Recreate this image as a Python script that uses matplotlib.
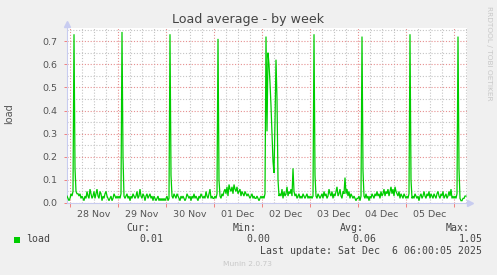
import matplotlib
matplotlib.use("Agg")
import matplotlib.pyplot as plt
import numpy as np

# ---- data (load, hundredths) at 30-minute steps, starting Nov 27 22:30 ----
start_hour = -1.5          # hours relative to 28 Nov 00:00
step_hours = 0.5
load_pre = [3, 2, 1]
load_nov28 = [2, 4, 3, 5, 73, 15, 5, 4, 4, 3, 4, 2, 3, 2, 1, 3, 2, 5, 3, 2, 6, 4, 2, 3,
              5, 2, 4, 6, 3, 2, 5, 4, 1, 3, 2, 4, 5, 3, 2, 1, 2, 3, 1, 2, 4, 3, 2, 3]
load_nov29 = [2, 3, 2, 4, 74, 20, 3, 2, 3, 4, 2, 3, 1, 3, 2, 4, 3, 2, 3, 5, 2, 3, 6, 3,
              2, 4, 3, 1, 3, 4, 2, 3, 4, 2, 3, 1, 3, 2, 1, 2, 3, 1, 2, 1, 2, 1, 2, 1]
load_nov30 = [2, 3, 1, 2, 73, 12, 3, 2, 4, 3, 2, 4, 3, 2, 1, 3, 2, 3, 2, 1, 2, 4, 3, 2,
              3, 1, 3, 2, 4, 2, 3, 2, 1, 3, 2, 4, 3, 2, 3, 2, 5, 3, 2, 4, 6, 2, 3, 2]
load_dec01 = [2, 3, 2, 4, 71, 10, 3, 2, 4, 3, 5, 6, 4, 7, 3, 8, 6, 5, 7, 4, 8, 6, 5, 7,
              4, 5, 6, 3, 5, 4, 3, 5, 4, 3, 4, 3, 2, 3, 4, 2, 3, 2, 2, 3, 2, 1, 2, 3]
load_dec02 = [2, 3, 2, 4, 72, 31, 65, 60, 52, 42, 30, 18, 13, 35, 62, 45, 10, 3, 4, 3, 6, 2, 5, 3,
              4, 7, 3, 5, 4, 6, 3, 15, 5, 3, 4, 2, 3, 4, 2, 3, 2, 4, 3, 2, 3, 4, 2, 3]
load_dec03 = [2, 3, 2, 3, 73, 12, 3, 2, 4, 3, 2, 3, 4, 2, 5, 3, 4, 2, 3, 6, 4, 3, 5, 2,
              4, 3, 5, 7, 3, 4, 6, 3, 2, 5, 4, 11, 4, 6, 3, 5, 2, 4, 3, 2, 3, 2, 1, 2]
load_dec04 = [2, 3, 1, 3, 72, 14, 3, 2, 4, 2, 3, 1, 3, 2, 4, 3, 2, 4, 3, 5, 3, 4, 2, 5,
              3, 4, 6, 3, 5, 4, 6, 3, 5, 7, 4, 6, 3, 7, 5, 4, 3, 5, 2, 4, 3, 2, 4, 3]
load_dec05 = [2, 3, 2, 4, 73, 10, 2, 3, 2, 4, 3, 2, 3, 1, 3, 4, 2, 3, 5, 3, 2, 4, 3, 5,
              2, 4, 3, 2, 4, 3, 2, 4, 5, 3, 2, 4, 3, 5, 2, 3, 4, 2, 3, 5, 3, 6, 2, 3]
load_dec06 = [2, 3, 2, 4, 72, 15, 2, 1, 1, 2, 2, 3, 3]

day_labels = ["28 Nov", "29 Nov", "30 Nov", "01 Dec", "02 Dec", "03 Dec", "04 Dec", "05 Dec"]
y_ticks = [0.0, 0.1, 0.2, 0.3, 0.4, 0.5, 0.6, 0.7]

legend_name = "load"
stat_names = ["Cur:", "Min:", "Avg:", "Max:"]
stat_values = ["0.01", "0.00", "0.06", "1.05"]
last_update = "Last update: Sat Dec  6 06:00:05 2025"

load = np.array(load_pre + load_nov28 + load_nov29 + load_nov30 + load_dec01 +
                load_dec02 + load_dec03 + load_dec04 + load_dec05 + load_dec06) / 100.0
hours = start_hour + step_hours * np.arange(len(load))

W, H = 497, 275
BG = "#F0F0F0"
fig = plt.figure(figsize=(W / 100, H / 100), dpi=100, facecolor=BG)
ax = fig.add_axes([67 / W, 72 / H, 400 / W, 175 / H])
ax.set_facecolor("white")

ax.plot(hours, load, color="#00CC00", lw=0.9, solid_joinstyle="miter", zorder=3)

ax.set_xlim(-1.5, 198.5)
ax.set_ylim(0, 0.757)

# x ticks: midnights major (red), 6h minor grid; labels at noon
midnights = [24 * i for i in range(9)]
minors = [h for h in range(0, 199, 6) if h % 24 != 0]
ax.set_xticks(midnights)
ax.set_xticklabels([""] * len(midnights))
ax.set_xticks(minors, minor=True)
ax.set_xticklabels([day_labels[h // 24] if h % 24 == 12 and h // 24 < len(day_labels) else ""
                    for h in minors], minor=True)
ax.tick_params(axis="x", which="major", length=3, width=0.7, color="#F08080", pad=2)
ax.tick_params(axis="x", which="minor", length=0, pad=5, labelsize=6.8, labelcolor="#555555")

ax.set_yticks(y_ticks)
ax.set_yticklabels([f"{v:.1f}" for v in y_ticks])
ax.set_yticks([v + 0.05 for v in y_ticks], minor=True)
ax.tick_params(axis="y", which="major", length=2, width=0.7, color="#F08080", pad=5,
               labelsize=6.8, labelcolor="#555555")
ax.tick_params(axis="y", which="minor", length=0)

ax.grid(which="major", color="#E69090", linestyle=(0, (1, 1.6)), linewidth=0.8)
ax.grid(which="minor", color="#C4C4C4", linestyle=(0, (1, 1.6)), linewidth=0.8)
ax.set_axisbelow(True)

for s in ["top", "right"]:
    ax.spines[s].set_visible(False)
for s in ["left", "bottom"]:
    ax.spines[s].set_color("#C8CCF0")
    ax.spines[s].set_linewidth(0.8)

ax.plot([0], [1 + 4 / 175], marker="^", ms=4, color="#C8CCF0", transform=ax.transAxes, clip_on=False)
ax.plot([1 + 3 / 400], [0], marker=">", ms=4, color="#C8CCF0", transform=ax.transAxes, clip_on=False)

fig.text(248.5 / W, 1 - 19.5 / H, "Load average - by week", ha="center", va="center",
         fontsize=9.1, color="#444444")
fig.text(9 / W, 1 - 114 / H, "load", rotation=90, ha="center", va="center",
         fontsize=7, color="#555555")
fig.text(489 / W, 1 - 53 / H, "RRDTOOL / TOBI OETIKER", rotation=270, ha="center", va="center",
         fontsize=5.3, color="#C8C8C8")

mono = "DejaVu Sans Mono"
fs = 7.1
tc = "#444444"
fig.patches.append(plt.Rectangle((14 / W, 1 - 242.5 / H), 6 / W, 6 / H, transform=fig.transFigure,
                                 facecolor="#00CC00", edgecolor="none"))
fig.text(26.5 / W, 1 - 239.5 / H, legend_name, family=mono, fontsize=fs, color=tc, va="center", ha="left")
name_x = [150, 257, 363.5, 470]
val_x = [163, 270, 376, 482.5]
for nx, vx, n, v in zip(name_x, val_x, stat_names, stat_values):
    fig.text(nx / W, 1 - 228 / H, n, family=mono, fontsize=fs, color=tc, va="center", ha="right")
    fig.text(vx / W, 1 - 239.5 / H, v, family=mono, fontsize=fs, color=tc, va="center", ha="right")
fig.text(482.5 / W, 1 - 251.5 / H, last_update, family=mono, fontsize=fs, color=tc, va="center", ha="right")
fig.text(247 / W, 1 - 264 / H, "Munin 2.0.73", fontsize=5.4, color="#C8C8C8", va="center", ha="center")

fig.savefig("out.png", dpi=100, facecolor=BG)
